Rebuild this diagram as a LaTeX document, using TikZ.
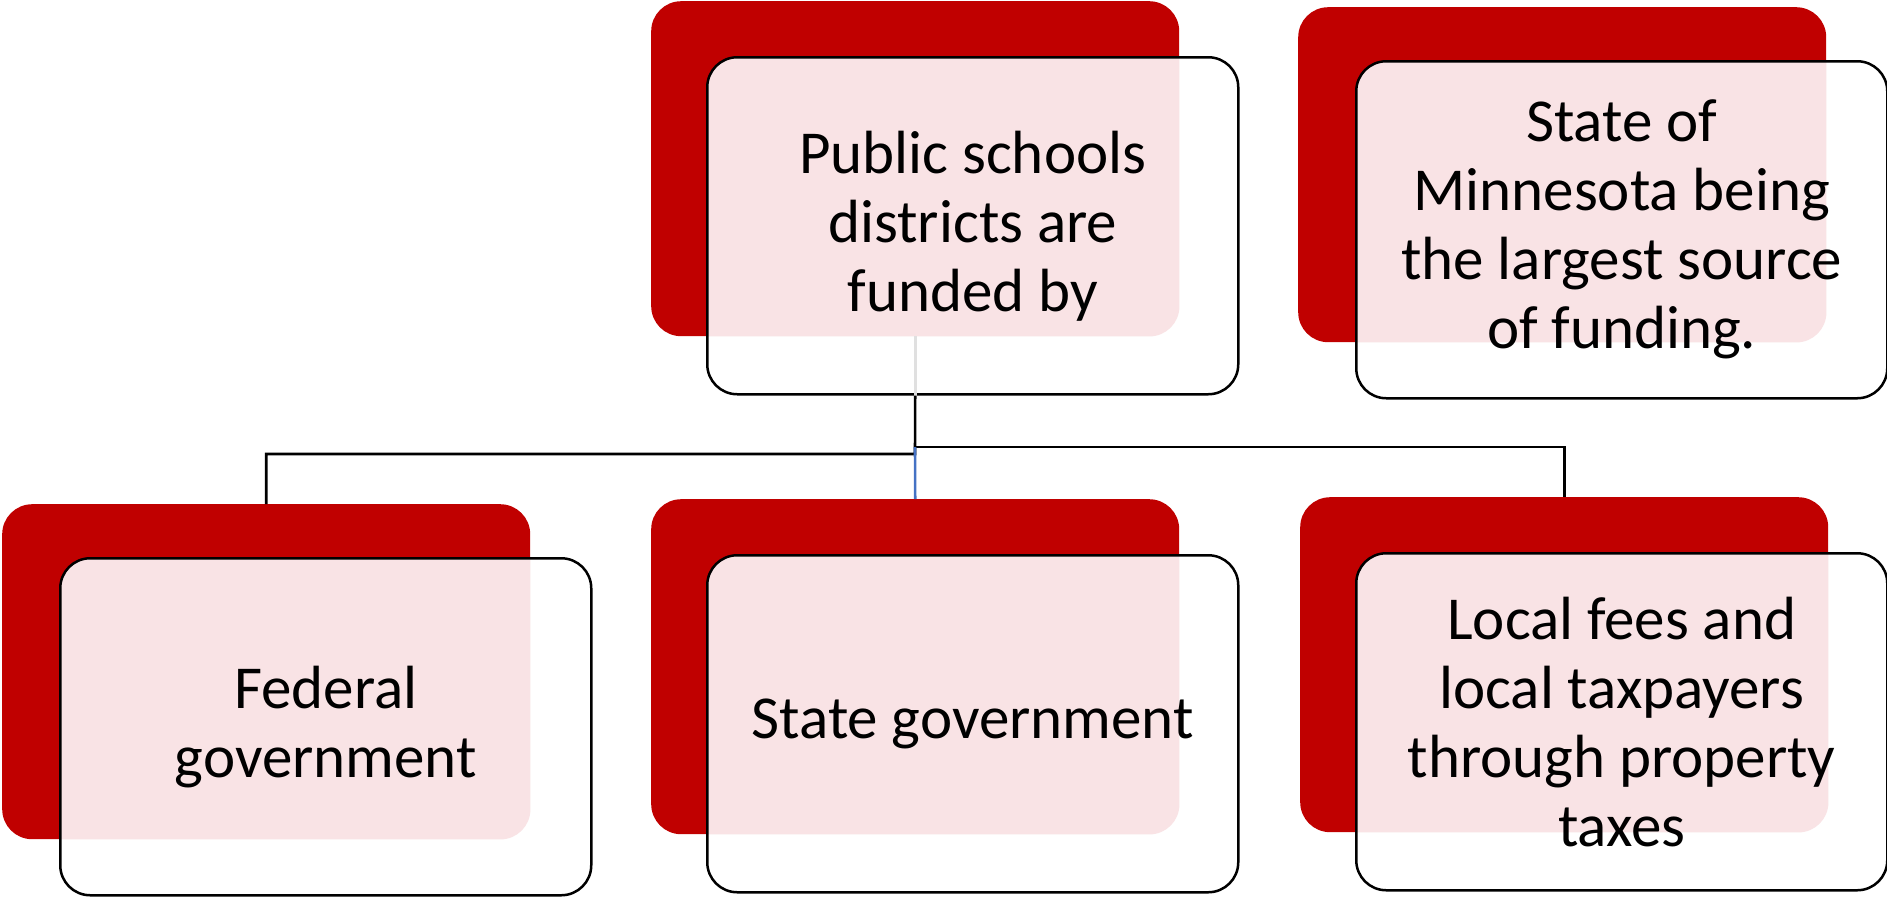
\documentclass[tikz,border=0pt]{standalone}
\usepackage{fontspec}
\setmainfont{Carlito}
\definecolor{cred}{RGB}{192,0,0}
\definecolor{cpink}{RGB}{249,227,229}
\definecolor{cgrey}{RGB}{224,224,224}
\definecolor{cblue}{RGB}{68,114,196}
\newcommand{\boxfont}{\fontsize{61}{69}\selectfont}
\tikzset{
  back/.style={fill=cred, draw=none, rounded corners=30pt, minimum width=528pt, minimum height=335pt, inner sep=0pt, anchor=north west},
  front/.style={draw=black, line width=2.5pt, fill=white, rounded corners=30pt, minimum width=531pt, minimum height=337pt, inner sep=0pt, align=center, font=\boxfont, text=black, anchor=north west},
  overlap/.style={path picture={\fill[cpink, rounded corners=30pt] (#1.south west) rectangle (#1.north east);}},
  conn/.style={draw=black, line width=2.6pt},
}
\begin{document}
\begin{tikzpicture}[x=1pt, y=-1pt]
\useasboundingbox (0,0) rectangle (1887,898);
% top centre
\node[back] (r1) at (651,1) {};
\node[front, overlap=r1] (f1) at (706,56) {Public schools\\districts are\\funded by};
% top right
\node[back] (r2) at (1298,7) {};
\node[front, overlap=r2] (f2) at (1355,60) {State of\\Minnesota being\\the largest source\\of funding.};
% bottom left
\node[back] (r3) at (2,504) {};
\node[front, overlap=r3] (f3) at (59,557) {Federal\\government};
% bottom centre
\node[back] (r4) at (651,499) {};
\node[front, overlap=r4] (f4) at (706,554) {State government};
% bottom right
\node[back] (r5) at (1300,497) {};
\node[front, overlap=r5] (f5) at (1355,552) {Local fees and\\local taxpayers\\through property\\taxes};
% connectors
\coordinate (jl) at (915,454);
\coordinate (jr) at (915,447);
\draw[cgrey, line width=3pt] (r1.south) -- (r1.south |- f1.south);
\draw[conn] (r1.south |- f1.south) -- (jl) -| (r3.north);
\draw[conn] (jr) -| (r5.north);
\draw[cblue, line width=2.6pt] (jr) -- (r4.north);
\end{tikzpicture}
\end{document}
